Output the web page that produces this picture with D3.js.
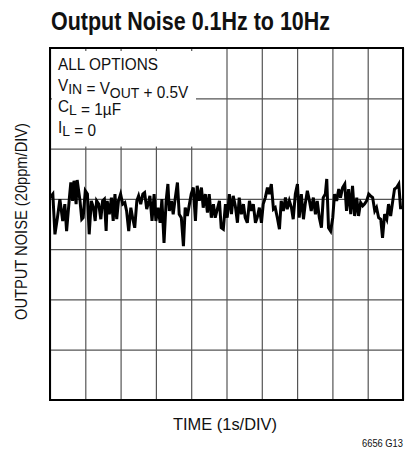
<!DOCTYPE html>
<meta charset="utf-8">
<script src="https://d3js.org/d3.v7.min.js"></script>
<body style="margin:0;background:#fff">
<div id="chart"></div>
</body>
<style>
text { font-family: "Liberation Sans", Arial, sans-serif; fill: #111; }
.grid line { stroke: #555; stroke-width: 1.2; }
</style>
<script>

// time of each sample (s) and output noise (ppm, relative to the mean level)
var times = [0.00,0.08,0.14,0.21,0.28,0.36,0.42,0.47,0.55,0.59,0.64,0.68,0.74,0.77,0.85,0.90,0.94,1.00,1.06,1.11,
  1.17,1.23,1.28,1.32,1.38,1.44,1.49,1.54,1.59,1.62,1.68,1.74,1.79,1.84,1.89,1.94,2.00,2.06,2.12,2.17,
  2.23,2.29,2.34,2.40,2.46,2.51,2.57,2.63,2.68,2.74,2.80,2.83,2.89,2.95,3.00,3.06,3.12,3.17,3.23,3.29,
  3.34,3.38,3.44,3.49,3.55,3.61,3.66,3.72,3.78,3.83,3.89,3.95,4.00,4.06,4.12,4.17,4.23,4.29,4.34,4.40,
  4.46,4.51,4.57,4.63,4.68,4.74,4.80,4.85,4.91,4.97,5.02,5.08,5.14,5.19,5.25,5.31,5.36,5.42,5.48,5.53,
  5.59,5.65,5.70,5.76,5.82,5.87,5.93,5.99,6.04,6.10,6.16,6.21,6.27,6.33,6.38,6.44,6.50,6.55,6.61,6.67,
  6.72,6.78,6.84,6.89,6.95,7.01,7.06,7.12,7.18,7.23,7.29,7.35,7.40,7.46,7.52,7.57,7.63,7.69,7.74,7.80,
  7.84,7.89,7.95,8.01,8.06,8.12,8.18,8.23,8.29,8.35,8.40,8.46,8.52,8.57,8.63,8.69,8.74,8.80,8.86,8.91,
  8.97,9.03,9.08,9.14,9.20,9.25,9.31,9.37,9.42,9.48,9.54,9.59,9.65,9.71,9.76,9.82,9.88,9.93,10.00]
var noise = [0.5,1.9,-14.1,-7.5,-0.1,-8.8,-2.1,-12.8,0.5,6.5,-0.8,7.2,-2.1,7.5,-0.8,-8.1,-7.5,3.2,1.9,-14.1,
  -0.8,-3.5,-8.8,-0.8,-2.1,-8.1,-0.8,-0.1,-12.8,-0.8,-6.1,0.5,-8.8,1.9,-8.1,-0.8,1.9,-2.1,-1.5,-4.8,
  -12.8,-3.5,-7.5,-11.5,-0.8,1.2,-2.1,1.9,2.5,-4.1,-0.8,1.2,-8.8,1.9,-8.8,-3.5,-9.5,-0.1,-17.5,-0.8,
  5.9,-4.8,-0.8,-6.1,0.5,6.5,-6.1,-7.5,-18.8,-3.5,-6.8,-2.1,1.9,4.5,-8.8,5.2,-0.8,4.5,-3.5,1.9,
  -5.5,1.9,-7.5,-2.1,-7.5,-4.1,-0.8,-11.5,-12.1,-2.1,-7.5,1.9,-6.1,1.2,-2.8,-9.5,0.5,-6.1,-2.1,-7.5,
  -9.5,-0.8,-4.8,-2.1,-9.5,-7.5,-3.5,-9.5,-2.1,0.5,4.5,1.9,5.9,-4.1,-3.5,-7.5,-12.1,-0.8,-4.8,0.5,
  -4.1,-0.8,-3.5,-8.1,1.9,5.9,-7.5,1.9,-8.1,-2.1,3.2,-0.8,-4.8,0.5,-6.1,-0.8,-7.5,-11.5,0.5,1.9,
  7.9,-11.5,-12.8,-7.5,1.9,-0.8,3.9,0.5,4.5,5.9,-4.8,3.9,-6.1,5.2,-6.8,0.5,-6.8,-1.5,-2.8,-2.1,
  -0.8,1.9,1.2,0.5,-4.8,-3.5,-7.5,-8.1,-15.5,-6.1,-8.1,-2.1,-6.8,-0.8,3.9,4.5,5.9,-3.5,-3.5]

var xTicks = [0,1,2,3,4,5,6,7,8,9,10]             // 1s per division
var yTicks = [-80,-60,-40,-20,0,20,40,60]          // 20ppm per division

var conditions = ["ALL OPTIONS", "V_IN = V_OUT + 0.5V", "C_L = 1µF", "I_L = 0"]

var margin = {top: 48, right: 10, bottom: 50, left: 50},
    width = 413 - margin.left - margin.right,
    height = 450 - margin.top - margin.bottom;

var svg = d3.select("#chart")
  .append("svg")
    .attr("width", 413)
    .attr("height", 450)

var g = svg.append("g")
    .attr("transform", "translate(" + margin.left + "," + margin.top + ")");

var x = d3.scaleLinear().domain([0, 10]).range([0, width]);
var y = d3.scaleLinear().domain([-80, 60]).range([height, 0]);

// grid
g.append("g")
  .attr("class", "grid")
  .call(d3.axisBottom(x).tickValues(xTicks).tickSize(height).tickFormat(""))
  .call(function(s) { s.select(".domain").remove() })
g.append("g")
  .attr("class", "grid")
  .call(d3.axisRight(y).tickValues(yTicks).tickSize(width).tickFormat(""))
  .call(function(s) { s.select(".domain").remove() })

// white box behind the test conditions
g.append("rect")
  .attr("x", 2).attr("y", 3)
  .attr("width", 144).attr("height", y(20) - 5)
  .attr("fill", "#fff")

// noise trace
g.append("path")
  .datum(times.map(function(t, i) { return [t, noise[i]] }))
  .attr("fill", "none")
  .attr("stroke", "#000")
  .attr("stroke-width", 3)
  .attr("stroke-linejoin", "miter")
  .attr("d", d3.line()
    .x(function(d) { return x(d[0]) })
    .y(function(d) { return y(d[1]) }))

// frame
g.append("rect")
  .attr("width", width).attr("height", height)
  .attr("fill", "none").attr("stroke", "#000").attr("stroke-width", 2)

// test conditions, "_X" marks a subscript; squeezed to look condensed
var cond = g.append("g")
  .attr("transform", "translate(8,0) scale(0.93,1)")
  .attr("font-size", 16.5)
conditions.forEach(function(c, i) {
  var t = cond.append("text").attr("x", 0).attr("y", 22 + i * 21)
  c.split(/(_[A-Z]+)/).forEach(function(part) {
    if (part.charAt(0) == "_") {
      t.append("tspan").attr("dy", 3.5).attr("font-size", 15).text(part.slice(1))
      t.append("tspan").attr("dy", -3.5).text("")
    } else if (part.length) {
      t.append("tspan").text(part)
    }
  })
})

// title
svg.append("text")
  .attr("x", 51).attr("y", 30)
  .attr("font-size", 25).attr("font-weight", "bold")
  .attr("textLength", 279).attr("lengthAdjust", "spacingAndGlyphs")
  .text("Output Noise 0.1Hz to 10Hz")

// axis labels
svg.append("text")
  .attr("x", 173).attr("y", 430)
  .attr("font-size", 17)
  .attr("textLength", 104).attr("lengthAdjust", "spacingAndGlyphs")
  .text("TIME (1s/DIV)")

svg.append("text")
  .attr("transform", "translate(27,320) rotate(-90)")
  .attr("font-size", 16)
  .attr("textLength", 197).attr("lengthAdjust", "spacingAndGlyphs")
  .text("OUTPUT NOISE (20ppm/DIV)")

svg.append("text")
  .attr("x", 362).attr("y", 447)
  .attr("font-size", 11.5)
  .attr("textLength", 41).attr("lengthAdjust", "spacingAndGlyphs")
  .text("6656 G13")

</script>
